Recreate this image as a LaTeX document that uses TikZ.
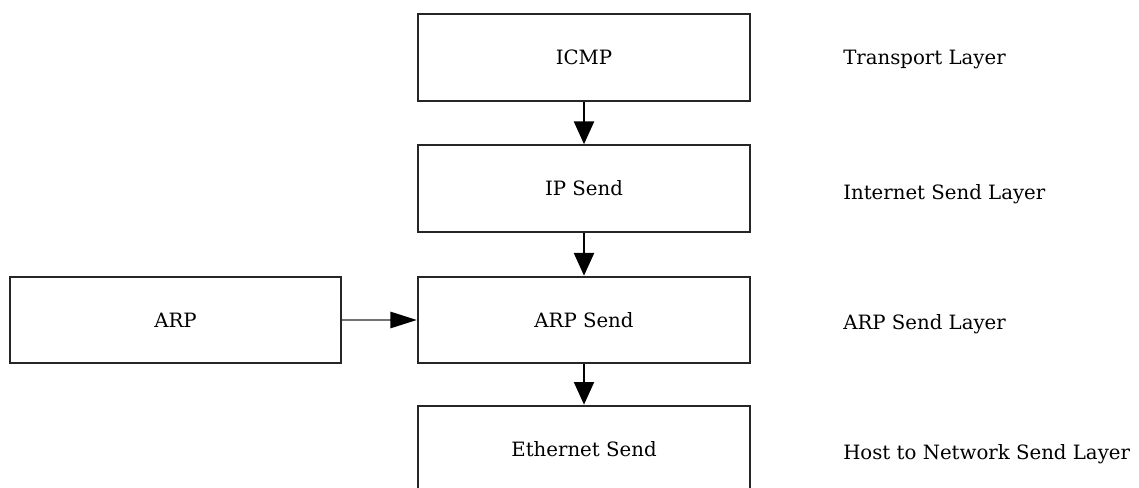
\documentclass[tikz,border=0pt]{standalone}
\usepackage{fontspec}
\setmainfont{DejaVu Serif}
\usetikzlibrary{arrows.meta}
\begin{document}
\begin{tikzpicture}[x=0.75pt,y=-0.75pt,
  box/.style={draw=black!85,line width=1.5pt,minimum width=249pt,minimum height=65pt,inner sep=0pt,font=\fontsize{14.8}{17}\selectfont},
  lbl/.style={anchor=west,inner sep=0pt,font=\fontsize{14.8}{17}\selectfont},
  arr/.style={line width=1.5pt,-{Triangle[length=17pt,width=15pt]}},
  garr/.style={draw=black!55,line width=2.2pt,-{Triangle[length=20pt,width=12pt,color=black,fill=black]}}]
\useasboundingbox (0,0) rectangle (1139,488);
\node[box] (icmp) at (584,57.5) {ICMP};
\node[box] (ip) at (584,188.5) {IP Send};
\node[box] (arps) at (584,320) {ARP Send};
\node[box] (eth) at (584,449) {Ethernet Send};
\node[box,minimum width=248pt] (arp) at (175.5,320) {ARP};
\draw[arr] (icmp) -- (ip);
\draw[arr] (ip) -- (arps);
\draw[arr] (arps) -- (eth);
\draw[garr] (arp) -- (arps);
\node[lbl] (l1) at (843,60) {Transport Layer};
\node[lbl] (l2) at (843,194) {Internet Send Layer};
\node[lbl] (l3) at (843,324) {ARP Send Layer};
\node[lbl] (l4) at (843,454) {Host to Network Send Layer};
\end{tikzpicture}
\end{document}
